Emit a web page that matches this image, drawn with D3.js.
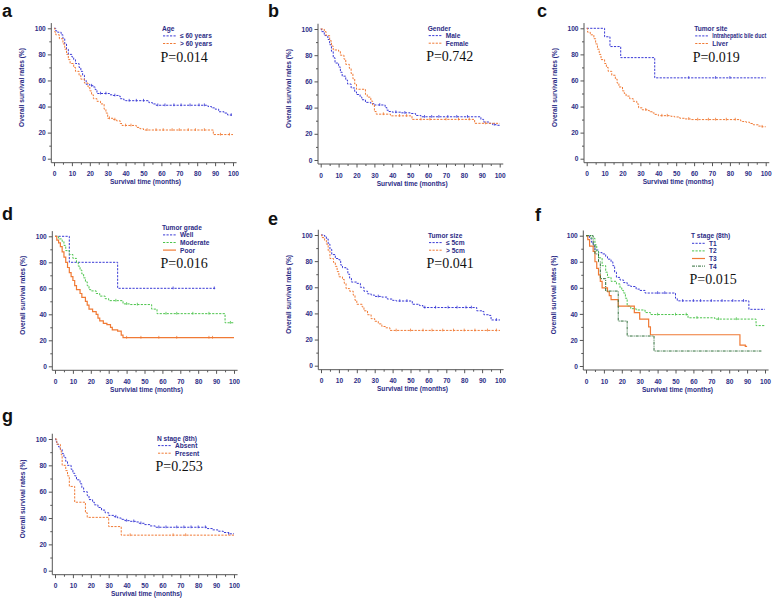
<!DOCTYPE html>
<html><head><meta charset="utf-8">
<script src="https://cdn.jsdelivr.net/npm/d3@7"></script>
<style>body{margin:0;background:#fff}</style>
</head><body><svg id="c" width="778" height="599"></svg>
<script>
// ---------- DATA (time in months, survival %) ----------
const a_le60 = [[0,100],[1,98],[2,97],[4,95],[5,92],[6,88],[7,84],[8,80],[10,78],[11,76],[12,73],[14,70],[15,67],[16,64],[17,60],[18,57],[20,56],[22,55],[23,53],[24,50],[31,49],[33,48.5],[36,48],[37,46],[39,45],[40,44.5],[53,43],[55,42],[57,41],[86,40],[88,39],[90,38],[92,36],[95,35],[97,33.5],[100,33.5]];
const a_gt60 = [[0,100],[0.5,97],[1,95],[3,92],[5,88],[6,84],[7,80],[8,76],[9,73],[11,70],[12,67],[14,64],[15,61],[17,58],[19,55],[20,52],[21,49],[22,46],[24,44],[26,42],[28,38],[29,35],[30,31],[33,30],[35,29],[37,27],[38,25.5],[46,24],[48,23],[50,22],[89,18.5],[100,18.5]];
const a_le60_cens = [21,26,29,34,42,46,50,58,62,67,71,76,81,84,99];
const a_gt60_cens = [31,34,40,43,52,57,61,66,70,75,79,84,93,98];

const b_male = [[0,100],[0.5,98],[2,95],[4,92],[5,88],[6,83],[7,78],[8,74],[10,71],[11,67],[12,64],[14,61],[15,58],[17,55],[19,52],[20,50],[22,48],[23,46],[25,44],[28,43],[30,42],[36,40],[37,38],[38,37],[40,36.5],[45,36],[50,35.5],[53,34],[56,33],[89.5,31],[91,29],[94,28],[96,27],[98,26.5],[100,26.5]];
const b_female = [[0,100],[2,98],[3,95],[5,91],[6,87],[7,84],[10,83],[11,80],[13,77],[14,73],[16,70],[17,66],[18,62],[19,58],[20,54],[25,50],[26,48],[28,45],[29,42],[30,37],[31,35],[39,33.7],[51,31],[86,28],[100,28]];
const b_male_cens = [33,42,47,58,62,66,71,76,82,97];
const b_female_cens = [35,44,48,56,61,70,77,83,92];

const c_ihbd = [[0,100],[10,93.5],[13,86],[19,77.5],[38,62],[100,62]];
const c_liver = [[0,100],[0.5,97],[2,95],[4,92],[5,88],[6,84],[7,80],[8,76],[10,73],[11,70],[12,67],[14,64],[16,61],[17,58],[18,55],[20,52],[21,50],[22,48],[24,46],[26,44],[28,42],[29,39],[31,37.5],[34,37],[35,36],[37,35],[38,34],[40,33],[47,32.5],[49,32],[52,31],[55,30.5],[58,30],[86,29],[87,28.5],[89,28],[91,27],[93,26],[96,25],[98,24.5],[100,24.5]];
const c_ihbd_cens = [57,72,80];
const c_liver_cens = [33,42,45,57,62,68,72,78,83,98];

const d_well = [[0,100],[8,80],[35,60],[90,60]];
const d_mod = [[0,100],[2,98],[4,96],[5,93],[6,89],[8,86],[10,83],[12,80],[13,77],[14,74],[15,71],[16,68],[17,65],[18,62],[19,59],[20,58],[23,56],[25,54],[28,52],[30,50.5],[38,48],[42,47.5],[54,44],[57,40.5],[95,33.5],[100,33.5]];
const d_poor = [[0,100],[1,97],[2,95],[3,92],[4,88],[5,84],[6,80],[7,76],[8,72],[9,69],[10,66],[11,62],[12,59],[14,56],[15,53],[17,50],[18,47],[19,44],[21,42],[23,40],[24,37],[25,35],[27,33],[29,32],[31,30],[32,28],[35,27],[37,24],[38,22],[100,22]];
const d_well_cens = [66,89];
const d_mod_cens = [34,40,46,62,68,77,86,98];
const d_poor_cens = [40,48,58,68,86,88];

const e_small = [[0,100],[2,99],[3,97],[4,93],[5,89],[6,85],[8,82],[10,81],[11,77],[12,75],[14,74],[15,70],[16,67],[17,64],[20,63],[22,60],[24,57],[26,55],[28,54],[30,53],[34,52.5],[37,51],[40,50],[42,49.5],[51,47],[55,46],[57,44.5],[87,42],[90,41.5],[91,39],[94,38.5],[95,35],[100,35]];
const e_large = [[0,100],[0.5,98],[2,96],[3,93],[4,88],[5,82],[7,79],[8,76],[9,72],[10,68],[12,66],[13,63],[14,59],[16,57],[18,54],[19,50],[20,47],[23,45],[24,42],[26,39],[28,36],[30,34],[32,32],[34,30],[36,29],[38.5,27],[100,27]];
const e_small_cens = [32,44,48,58,64,71,76,81,84,98];
const e_large_cens = [42,50,57,62,68,74,80,86,93,98];

const f_T1 = [[0,100],[2,98],[3,95],[4,92],[5,89],[7,87],[9,86],[11,84],[12,82],[14,80],[15,77],[16,72],[17,68],[19,66],[21,64],[23,62],[25,61],[28,59],[30,58],[33,56],[50,52],[51,50],[91,43.5],[100,43.5]];
const f_T2 = [[0,100],[3,98],[5,93],[6,88],[7,83],[9,77],[11,72],[12,68],[14,65],[17,63],[19,60],[20,58],[21,56],[22,52],[23,46],[25,44],[28,43],[33,41],[36,39.5],[57,37],[72,36],[95,31],[100,31]];
const f_T3 = [[0,100],[1,97],[2,92],[4,88],[5,80],[6,75],[7,70],[8,65],[9,60],[12,57],[13,54],[14,51],[18,46],[27,41],[30,36],[35,30],[36,24],[86,16],[89,15],[90,15]];
const f_T4 = [[0,100],[4,93],[5,86],[7,80],[8,67],[11,57.5],[18,34.5],[23,23],[38,11.5],[98,11.5]];
const f_T1_cens = [40,44,54,60,64,70,76,82,88];
const f_T2_cens = [40,50,56,62,74,84];
const f_T3_cens = [];
const f_T4_cens = [];

const g_absent = [[0,100],[0.5,98],[1,96],[2,94],[3,92],[4,89],[5,86],[6,83],[7,80],[9,77],[10,74],[11,72],[12,69],[14,66],[15,63],[16,60],[18,57],[19,54],[21,52],[22,50],[24,48],[26,46],[28,44],[30,42],[33,41],[35,40],[37,39],[39,38],[42,37.5],[45,37],[47,36],[50,35],[53,34],[56,33],[85,32],[88,31],[91,30],[94,29],[97,28],[100,28]];
const g_present = [[0,100],[1,96],[3,92],[3.5,88],[4,80],[6,76],[7,72],[8,64],[11,52],[17,44],[18,40.5],[30,33.5],[37,27],[100,27]];
const g_absent_cens = [34,40,44,48,58,62,68,72,76,80,84,97];
const g_present_cens = [42,66,73];

const xTicks = [0,10,20,30,40,50,60,70,80,90,100];
const xMinor = [5,15,25,35,45,55,65,75,85,95];
const yTicks = [0,20,40,60,80,100];
const yMinor = [10,30,50,70,90];

// ---------- STYLES ----------
const NAVY = "#2d2d86";
const FS = 6.6;
const ST = {
  blue:   {color:"#3a3ad6", dash:"2.2,1.3", w:1},
  orange: {color:"#f07a35", dash:"2.2,1.3", w:1},
  orangeS:{color:"#f07a35", dash:null, w:1.2},
  green:  {color:"#4cc44c", dash:"2.2,1.3", w:1},
  dkgreen:{color:"#2f6e3a", dash:"3,1,1,1", w:1}
};

const panels = [
  {L:"a", x0:54, y100:28.3, y0:158.7, lab:[2,16.5], xt:"Survival time (months)", title:"Age", lx:108, ly:0, p:"P=0.014",
   series:[{n:"\u2264 60 years", d:a_le60, c:a_le60_cens, s:ST.blue},{n:"> 60 years", d:a_gt60, c:a_gt60_cens, s:ST.orange}]},
  {L:"b", x0:320.7, y100:29, y0:160, lab:[268,16.5], xt:"Survival time (months)", title:"Gender", lx:107, ly:-1, p:"P=0.742",
   series:[{n:"Male", d:b_male, c:b_male_cens, s:ST.blue},{n:"Female", d:b_female, c:b_female_cens, s:ST.orange}]},
  {L:"c", x0:586.7, y100:28.3, y0:158.7, lab:[537,16.5], xt:"Survival time (months)", title:"Tumor site", lx:107.5, ly:0, p:"P=0.019",
   series:[{n:"Intrahepatic bile duct", d:c_ihbd, c:c_ihbd_cens, s:ST.blue, fit:54},{n:"Liver", d:c_liver, c:c_liver_cens, s:ST.orange}]},
  {L:"d", x0:55, y100:236.3, y0:366.3, lab:[2,220], xt:"Survivial time (months)", title:"Tumor grade", lx:107, ly:-9, p:"P=0.016",
   series:[{n:"Well", d:d_well, c:d_well_cens, s:ST.blue},{n:"Moderate", d:d_mod, c:d_mod_cens, s:ST.green},{n:"Poor", d:d_poor, c:d_poor_cens, s:ST.orangeS}]},
  {L:"e", x0:321, y100:235, y0:365.7, lab:[268,225], xt:"Survival time (months)", title:"Tumor size", lx:107, ly:0, p:"P=0.041",
   series:[{n:"\u2264 5cm", d:e_small, c:e_small_cens, s:ST.blue},{n:"> 5cm", d:e_large, c:e_large_cens, s:ST.orange}]},
  {L:"f", x0:586, y100:235.7, y0:366, lab:[535,221], xt:"Survival time (months)", title:"T stage (8th)", lx:105, ly:0, p:"P=0.015",
   series:[{n:"T1", d:f_T1, c:f_T1_cens, s:ST.blue},{n:"T2", d:f_T2, c:f_T2_cens, s:ST.green},{n:"T3", d:f_T3, c:f_T3_cens, s:ST.orangeS},{n:"T4", d:f_T4, c:f_T4_cens, s:ST.dkgreen}]},
  {L:"g", x0:55, y100:439, y0:570.7, lab:[2,422], xt:"Survival time (months)", title:"N stage (8th)", lx:102, ly:-1, p:"P=0.253",
   series:[{n:"Absent", d:g_absent, c:g_absent_cens, s:ST.blue},{n:"Present", d:g_present, c:g_present_cens, s:ST.orange}]}
];

const svg = d3.select("#c");
const SANS = "'Liberation Sans', Arial, sans-serif";

function survAt(d, t){ let s=d[0][1]; for(const p of d){ if(p[0]<=t) s=p[1]; else break;} return s; }

panels.forEach(P=>{
  const x = d3.scaleLinear().domain([0,100]).range([P.x0, P.x0+179]);
  const y = d3.scaleLinear().domain([0,100]).range([P.y0, P.y100]);
  const g = svg.append("g");
  const axY = y(0)+4, axX = x(0)-2.7;

  // panel letter
  svg.append("text").attr("x",P.lab[0]).attr("y",P.lab[1]).text(P.L)
     .attr("font-family",SANS).attr("font-weight","bold").attr("font-size",18).attr("fill","#111");

  // axes lines
  g.append("line").attr("x1",axX).attr("x2",x(102)).attr("y1",axY).attr("y2",axY).attr("stroke","#555").attr("stroke-width",1);
  g.append("line").attr("x1",axX).attr("x2",axX).attr("y1",y(104)).attr("y2",axY).attr("stroke","#555").attr("stroke-width",1);

  const xa = g.append("g").attr("transform",`translate(0,${axY})`).call(d3.axisBottom(x).tickValues(xTicks).tickSize(3.5).tickPadding(5.5));
  const xm = g.append("g").attr("transform",`translate(0,${axY})`).call(d3.axisBottom(x).tickValues(xMinor).tickSize(2).tickFormat(""));
  const ya = g.append("g").attr("transform",`translate(${axX},0)`).call(d3.axisLeft(y).tickValues(yTicks).tickSize(3.5).tickPadding(2));
  const ym = g.append("g").attr("transform",`translate(${axX},0)`).call(d3.axisLeft(y).tickValues(yMinor).tickSize(2).tickFormat(""));
  [xa,xm,ya,ym].forEach(a=>{
    a.select(".domain").remove();
    a.selectAll("line").attr("stroke","#555");
    a.selectAll("text").attr("font-family",SANS).attr("font-weight","bold").attr("font-size",FS).attr("fill",NAVY);
  });

  // axis titles
  g.append("text").attr("x",x(50)+2).attr("y",axY+21.5).attr("text-anchor","middle").text(P.xt)
    .attr("font-family",SANS).attr("font-weight","bold").attr("font-size",FS).attr("fill",NAVY);
  g.append("text").attr("transform",`translate(${axX-29.5},${y(50)-6}) rotate(-90)`).attr("text-anchor","middle").attr("dy","0.35em")
    .text("Overall survival rates (%)").attr("font-family",SANS).attr("font-weight","bold").attr("font-size",FS).attr("fill",NAVY);

  // curves
  const line = d3.line().x(d=>x(d[0])).y(d=>y(d[1])).curve(d3.curveStepAfter);
  P.series.forEach(S=>{
    g.append("path").attr("d",line(S.d)).attr("fill","none").attr("stroke",S.s.color).attr("stroke-width",S.s.w)
      .attr("stroke-dasharray",S.s.dash);
    g.selectAll(null).data(S.c).enter().append("line")
      .attr("x1",t=>x(t)).attr("x2",t=>x(t)).attr("y1",t=>y(survAt(S.d,t))-1.8).attr("y2",t=>y(survAt(S.d,t))+1)
      .attr("stroke",S.s.color).attr("stroke-width",0.8);
  });

  // legend
  const lx = P.x0+P.lx, ly = P.y100+P.ly;
  g.append("text").attr("x",lx).attr("y",ly+2.5).text(P.title)
    .attr("font-family",SANS).attr("font-weight","bold").attr("font-size",FS).attr("fill",NAVY);
  P.series.forEach((S,i)=>{
    const yy = ly + 7.6*(i+1);
    g.append("line").attr("x1",lx+1).attr("x2",lx+14).attr("y1",yy).attr("y2",yy)
      .attr("stroke",S.s.color).attr("stroke-width",S.s.w).attr("stroke-dasharray",S.s.dash);
    const t = g.append("text").attr("x",lx+18).attr("y",yy+2.5).text(S.n)
      .attr("font-family",SANS).attr("font-weight","bold").attr("font-size",FS).attr("fill",NAVY);
    if (S.fit) t.attr("textLength",S.fit).attr("lengthAdjust","spacingAndGlyphs");
  });
  const lastY = ly + 7.6*P.series.length;
  g.append("text").attr("x",lx-1.5).attr("y",lastY+18).text(P.p)
    .attr("font-family","'Liberation Serif','Times New Roman',serif").attr("font-size",14).attr("fill","#111");
});
</script>
</body></html>
